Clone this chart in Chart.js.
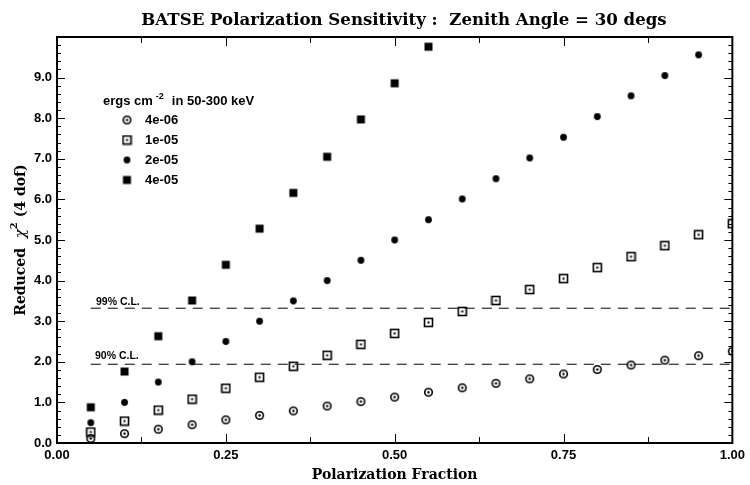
<!DOCTYPE html>
<html>
<head>
<meta charset="utf-8">
<script src="https://cdn.jsdelivr.net/npm/chart.js@4.4.0/dist/chart.umd.min.js"></script>
<style>
  html, body { margin: 0; padding: 0; background: #fff; }
  #wrap { width: 750px; height: 485px; }
</style>
</head>
<body>
<div id="wrap"><canvas id="chart"></canvas></div>
<script>
// polarization fraction on x
const fractions = [0.05, 0.10, 0.15, 0.20, 0.25, 0.30, 0.35, 0.40, 0.45, 0.50,
                   0.55, 0.60, 0.65, 0.70, 0.75, 0.80, 0.85, 0.90, 0.95, 1.00];
// reduced chi^2 per fluence (ergs cm^-2)
const flux4e06 = [0.11, 0.23, 0.34, 0.45, 0.57, 0.68, 0.79, 0.91, 1.02, 1.13,
                  1.25, 1.36, 1.47, 1.58, 1.70, 1.81, 1.92, 2.04, 2.15, 2.26];
const flux1e05 = [0.27, 0.54, 0.81, 1.08, 1.35, 1.62, 1.89, 2.16, 2.43, 2.70,
                  2.97, 3.24, 3.51, 3.78, 4.05, 4.32, 4.59, 4.86, 5.13, 5.40];
const flux2e05 = [0.50, 1.00, 1.50, 2.00, 2.50, 3.00, 3.50, 4.00, 4.50, 5.00,
                  5.50, 6.01, 6.51, 7.02, 7.53, 8.04, 8.55, 9.05, 9.56];
const flux4e05 = [0.88, 1.76, 2.63, 3.51, 4.39, 5.28, 6.16, 7.05, 7.97, 8.86, 9.76];
const seriesLabels = ['4e-06', '1e-05', '2e-05', '4e-05'];

const cl90 = 1.94;
const cl99 = 3.32;
const clStart = 0.05;
const clEnd = 1.00;

const xMajor = [0, 0.25, 0.5, 0.75, 1.0];
const xMinor = [0.125, 0.375, 0.625, 0.875];
const yMajor = [0, 1, 2, 3, 4, 5, 6, 7, 8, 9, 10];
const yLabelled = [0, 1, 2, 3, 4, 5, 6, 7, 8, 9];

const SANS = "'Liberation Sans', Arial, sans-serif";
const SERIF = "'DejaVu Serif', 'Liberation Serif', serif";

function marker(kind) {
  const c = document.createElement('canvas');
  c.width = 11; c.height = 11;
  const g = c.getContext('2d');
  g.fillStyle = '#000'; g.strokeStyle = '#000'; g.lineWidth = 1.6;
  if (kind === 'dotCircle') {
    g.beginPath(); g.arc(5.5, 5.5, 3.8, 0, Math.PI * 2); g.stroke();
    g.beginPath(); g.arc(5.5, 5.5, 1.2, 0, Math.PI * 2); g.fill();
  } else if (kind === 'dotSquare') {
    g.strokeRect(1.5, 1.5, 8, 8);
    g.fillRect(4.5, 4.5, 2, 2);
  } else if (kind === 'circle') {
    g.beginPath(); g.arc(5.5, 5.5, 3.4, 0, Math.PI * 2); g.fill();
  } else {
    g.fillRect(1.5, 1.5, 8, 8);
  }
  return c;
}
const styles = [marker('dotCircle'), marker('dotSquare'), marker('circle'), marker('square')];

function pts(vals) {
  return vals.map((v, i) => ({ x: fractions[i], y: v }));
}
function clLine(y) {
  return [{ x: clStart, y: y }, { x: clEnd, y: y }];
}

const pointSets = [flux4e06, flux1e05, flux2e05, flux4e05].map((vals, i) => ({
  type: 'scatter',
  label: seriesLabels[i],
  data: pts(vals),
  pointStyle: styles[i],
  pointRadius: 5,
  clip: 0
}));

const lineSets = [cl99, cl90].map(y => ({
  type: 'line',
  data: clLine(y),
  borderColor: '#000',
  borderWidth: 1,
  borderDash: [10, 7],
  pointRadius: 0,
  fill: false
}));

const decor = {
  id: 'decor',
  afterDraw(chart) {
    const { ctx, chartArea: a, scales: { x, y } } = chart;
    ctx.save();
    ctx.strokeStyle = '#000';
    ctx.fillStyle = '#000';

    // ticks on all four sides, pointing in
    ctx.lineWidth = 1;
    ctx.beginPath();
    const xt = (v, len) => {
      const px = Math.round(x.getPixelForValue(v)) + 0.5;
      ctx.moveTo(px, a.bottom); ctx.lineTo(px, a.bottom - len);
      ctx.moveTo(px, a.top); ctx.lineTo(px, a.top + len);
    };
    xMajor.forEach(v => xt(v, 9));
    xMinor.forEach(v => xt(v, 6));
    const yt = (v, len) => {
      const py = Math.round(y.getPixelForValue(v)) + 0.5;
      ctx.moveTo(a.left, py); ctx.lineTo(a.left + len, py);
      ctx.moveTo(a.right, py); ctx.lineTo(a.right - len, py);
    };
    yMajor.forEach(v => yt(v, 8));
    for (let k = 1; k < 50; k++) { if (k % 5) yt(k / 5, 4); }
    ctx.stroke();

    // frame
    ctx.lineWidth = 2;
    ctx.strokeRect(a.left, a.top, a.right - a.left, a.bottom - a.top);

    // confidence level labels
    ctx.font = 'bold 10.5px ' + SANS;
    ctx.textAlign = 'left';
    ctx.textBaseline = 'alphabetic';
    ctx.fillText('99% C.L.', 96, y.getPixelForValue(cl99) - 3);
    ctx.fillText('90% C.L.', 95, y.getPixelForValue(cl90) - 5);

    // legend
    ctx.font = 'bold 13px ' + SANS;
    let lx = 103;
    ctx.fillText('ergs cm', lx, 105);
    lx += ctx.measureText('ergs cm').width + 3;
    ctx.font = 'bold 9px ' + SANS;
    ctx.fillText('-2', lx, 99);
    lx += ctx.measureText('-2').width + 8;
    ctx.font = 'bold 13px ' + SANS;
    ctx.fillText('in 50-300 keV', lx, 105);
    seriesLabels.forEach((lab, i) => {
      const cy = 120 + i * 20;
      ctx.drawImage(styles[i], 127 - 5.5, cy - 5.5);
      ctx.textBaseline = 'middle';
      ctx.fillText(lab, 145, cy);
    });

    // title
    ctx.textBaseline = 'alphabetic';
    ctx.textAlign = 'center';
    ctx.font = 'bold 16.6px ' + SERIF;
    ctx.fillText('BATSE Polarization Sensitivity :  Zenith Angle = 30 degs', 404, 25);

    // x title
    ctx.font = 'bold 14px ' + SERIF;
    ctx.fillText('Polarization Fraction', (a.left + a.right) / 2, 479);

    // y title with superscript
    ctx.translate(25, 240);
    ctx.rotate(-Math.PI / 2);
    ctx.textAlign = 'left';
    const p1 = 'Reduced  ', p2 = 'χ', p3 = '2', p4 = ' (4 dof)';
    ctx.font = 'bold 14px ' + SERIF;
    const w1 = ctx.measureText(p1).width;
    ctx.font = 'italic 15px ' + SERIF;
    const w2 = ctx.measureText(p2).width;
    ctx.font = 'bold 10px ' + SERIF;
    const w3 = ctx.measureText(p3).width;
    ctx.font = 'bold 14px ' + SERIF;
    const w4 = ctx.measureText(p4).width;
    let tx = -(w1 + w2 + w3 + w4) / 2;
    ctx.fillText(p1, tx, 0); tx += w1;
    ctx.font = 'italic 15px ' + SERIF;
    ctx.fillText(p2, tx, 0); tx += w2;
    ctx.font = 'bold 10px ' + SERIF;
    ctx.fillText(p3, tx, -8); tx += w3;
    ctx.font = 'bold 14px ' + SERIF;
    ctx.fillText(p4, tx, 0);
    ctx.restore();
  }
};

new Chart(document.getElementById('chart'), {
  data: { datasets: [...lineSets, ...pointSets] },
  options: {
    responsive: true,
    maintainAspectRatio: false,
    animation: false,
    devicePixelRatio: 1,
    layout: { autoPadding: false, padding: { top: 37, right: 12, left: 0, bottom: 0 } },
    plugins: { legend: { display: false }, tooltip: { enabled: false }, title: { display: false } },
    scales: {
      x: {
        type: 'linear', min: 0, max: 1,
        afterBuildTicks: s => { s.ticks = xMajor.map(v => ({ value: v })); },
        afterFit: s => { s.height = 42; },
        grid: { display: false, drawTicks: false },
        border: { display: false },
        ticks: {
          autoSkip: false, maxRotation: 0, padding: 5,
          color: '#000',
          font: { family: SANS, weight: 'bold', size: 13 },
          callback: v => v.toFixed(2)
        }
      },
      y: {
        type: 'linear', min: 0, max: 10,
        afterBuildTicks: s => { s.ticks = yLabelled.map(v => ({ value: v })); },
        afterFit: s => { s.width = 57; },
        grid: { display: false, drawTicks: false },
        border: { display: false },
        ticks: {
          autoSkip: false, padding: 5,
          color: '#000',
          font: { family: SANS, weight: 'bold', size: 13 },
          callback: v => v.toFixed(1)
        }
      }
    }
  },
  plugins: [decor]
});
</script>
</body>
</html>
